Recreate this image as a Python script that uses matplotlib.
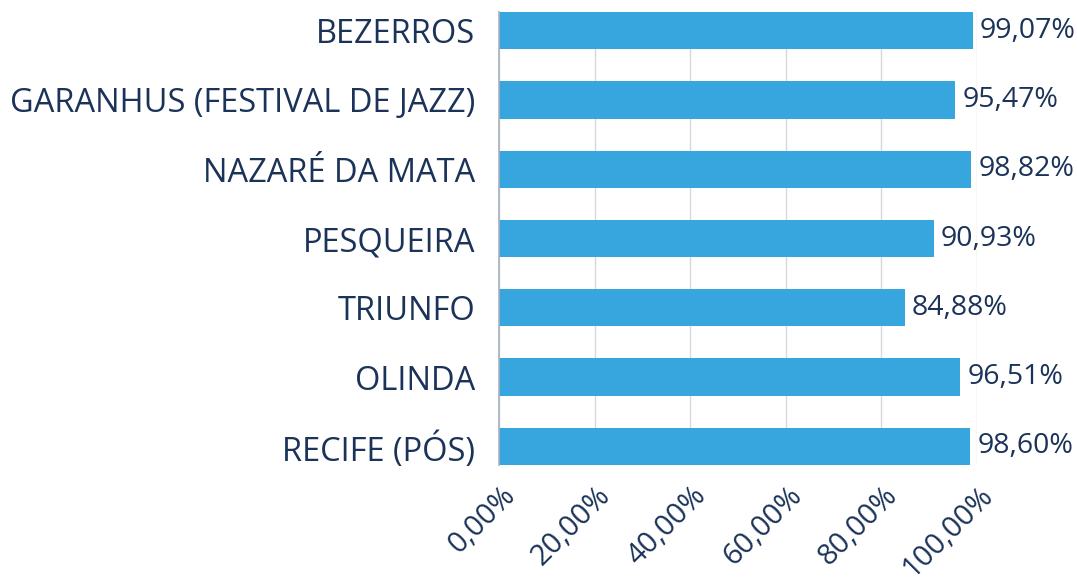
import matplotlib
matplotlib.use("Agg")
import matplotlib.pyplot as plt
import matplotlib.transforms as mtransforms
import numpy as np

# dados do gráfico
cidades = ["BEZERROS", "GARANHUS (FESTIVAL DE JAZZ)", "NAZARÉ DA MATA",
           "PESQUEIRA", "TRIUNFO", "OLINDA", "RECIFE (PÓS)"]
valores = [99.07, 95.47, 98.82, 90.93, 84.88, 96.51, 98.60]
ticks_x = [0, 20, 40, 60, 80, 100]

azul = "#38A6DE"
texto = "#1B3358"

plt.rcParams["font.family"] = ["Open Sans", "DejaVu Sans"]


def fmt(v):
    return "{:.2f}%".format(v).replace(".", ",")


fig = plt.figure(figsize=(10.77, 5.88), dpi=100)
ax = fig.add_axes([499 / 1077, (588 - 465) / 588, (977 - 499) / 1077, (465 - 12) / 588])

y = np.arange(len(cidades))
ax.barh(y, valores, height=0.54, color=azul, zorder=3)

# rótulos de valor
for yi, v in zip(y, valores):
    ax.annotate(fmt(v), (v, yi), xytext=(5, 0), textcoords="offset points",
                va="center", ha="left", fontsize=20.5, color=texto, zorder=4)

ax.set_ylim(len(cidades) - 1 + 0.27, -0.27)
ax.set_xlim(0, 100)
ax.set_yticks(y)
ax.set_yticklabels(cidades, fontsize=23.5, color=texto)
ax.set_xticks(ticks_x)
ax.set_xticklabels([fmt(t) for t in ticks_x], fontsize=21, color=texto,
                   rotation=45, ha="right", va="center", rotation_mode="anchor")
ax.tick_params(axis="both", length=0)
ax.tick_params(axis="y", pad=17)
ax.tick_params(axis="x", pad=19)

# desloca os rótulos do eixo x um pouco para a direita
desloc = mtransforms.ScaledTranslation(12 / 100, 0, fig.dpi_scale_trans)
for lbl in ax.get_xticklabels():
    lbl.set_transform(lbl.get_transform() + desloc)

ax.grid(axis="x", color="#D5D8DD", linewidth=1, zorder=0)
for s in ["top", "right", "bottom"]:
    ax.spines[s].set_visible(False)
ax.spines["left"].set_color("#A9B1BC")
ax.spines["left"].set_linewidth(1.2)
ax.spines["left"].set_zorder(5)

fig.savefig("out.png", dpi=100)
